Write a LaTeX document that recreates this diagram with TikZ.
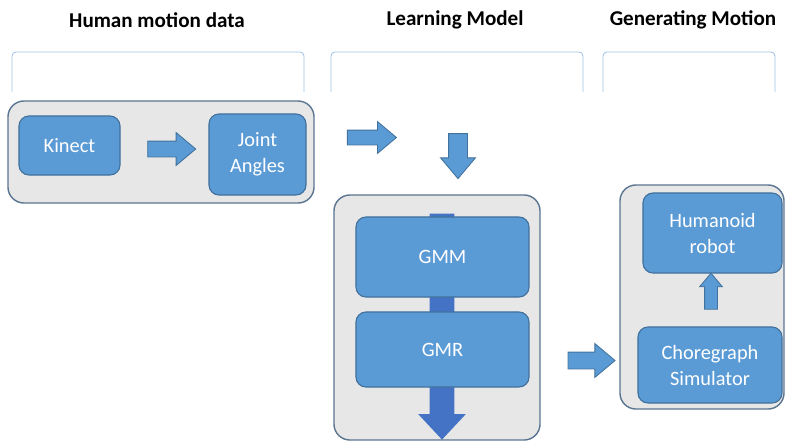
\documentclass[tikz,border=0pt]{standalone}
\usepackage{fontspec}
\setmainfont{Carlito}
\usetikzlibrary{shapes.arrows}
\definecolor{boxblue}{RGB}{91,155,213}
\definecolor{boxedge}{RGB}{65,113,156}
\definecolor{groupgray}{RGB}{231,231,231}
\definecolor{groupedge}{RGB}{90,117,144}
\definecolor{bracketblue}{RGB}{157,195,230}
\definecolor{darkarrow}{RGB}{68,114,196}

\begin{document}
\begin{tikzpicture}[x=0.025cm, y=-0.025cm,
    title/.style={font=\bfseries\fontsize{15}{18}\selectfont},
    bracket/.style={draw=bracketblue, line width=0.6pt, rounded corners=0.1cm},
    group/.style={draw=groupedge, fill=groupgray, line width=1pt, rounded corners=0.4cm, inner sep=0pt},
    block/.style={draw=boxedge, fill=boxblue, line width=0.8pt, rounded corners=0.25cm, inner sep=0pt, text=white, align=center, font=\fontsize{14.5}{18.5}\selectfont},
    blockarrow/.style={single arrow, draw=boxedge, fill=boxblue, line width=0.6pt, inner xsep=0pt, single arrow tip angle=80, single arrow head indent=0pt}]

    \useasboundingbox (0,0) rectangle (785,443);

    % column titles
    \node[title] (ttl-data) at (157,20) {Human motion data};
    \node[title] (ttl-learn) at (455,20) {Learning Model};
    \node[title] (ttl-gen) at (693,20) {Generating Motion};

    \draw[bracket] (12,92) -- (12,52) -- (304,52) -- (304,92);
    \draw[bracket] (331,92) -- (331,52) -- (583,52) -- (583,92);
    \draw[bracket] (603,92) -- (603,52) -- (775,52) -- (775,92);

    % human motion data
    \node[group, minimum width=7.65cm, minimum height=2.55cm] (data) at (161,152) {};
    \node[block, minimum width=2.525cm, minimum height=1.475cm] (kinect) at (69.5,145.5) {Kinect};
    \node[block, minimum width=2.425cm, minimum height=2.025cm] (joint) at (257.5,154.5) {Joint\\Angles};
    \node[blockarrow, minimum height=1.2cm, inner ysep=0.1875cm, single arrow head extend=0.2125cm] (kin-joint) at (167,149) {};

    \node[blockarrow, minimum height=1.225cm, inner ysep=0.175cm, single arrow head extend=0.2125cm] (to-learn) at (367.5,137.5) {};
    \node[blockarrow, rotate=-90, minimum height=1.125cm, inner ysep=0.225cm, single arrow head extend=0.2cm] (into-learn) at (458,150.5) {};

    % learning model
    \node[group, minimum width=5.15cm, minimum height=6.125cm] (learn) at (437,317.5) {};
    \node[single arrow, rotate=-90, fill=darkarrow, inner xsep=0pt, inner ysep=0.3cm, single arrow tip angle=86, single arrow head indent=0pt, minimum height=5.65cm, single arrow head extend=0.2875cm] (flow) at (442,320) {};
    \node[block, minimum width=4.325cm, minimum height=2cm] (gmm) at (442.5,257) {GMM};
    \node[block, minimum width=4.325cm, minimum height=1.875cm] (gmr) at (442.5,349.5) {GMR};

    \node[blockarrow, minimum height=1.175cm, inner ysep=0.2cm, single arrow head extend=0.2125cm] (to-gen) at (586.5,360.5) {};

    % generating motion
    \node[group, minimum width=4.1cm, minimum height=5.6cm] (gen) at (702,297) {};
    \node[block, minimum width=3.475cm, minimum height=2cm] (robot) at (712.5,233) {Humanoid\\robot};
    \node[block, minimum width=3.6cm, minimum height=1.9cm] (chore) at (710,365) {Choregraph\\Simulator};
    \node[blockarrow, rotate=90, minimum height=0.9cm, inner ysep=0.15cm, single arrow head extend=0.125cm] (chore-robot) at (711,295) {};

\end{tikzpicture}
\end{document}
